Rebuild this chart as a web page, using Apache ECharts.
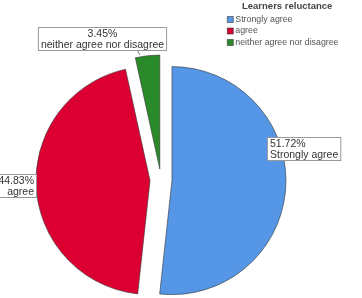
<!DOCTYPE html>
<html>
<head>
<meta charset="utf-8">
<script src="https://cdn.jsdelivr.net/npm/echarts@6/dist/echarts.min.js"></script>
<style>
html,body{margin:0;padding:0;background:#fff;}
#c{width:362px;height:298px;}
</style>
</head>
<body>
<div id="c"></div>
<script>
var legendTitle = 'Learners reluctance';
var categories = ['Strongly agree', 'agree', 'neither agree nor disagree'];
var counts = [15, 13, 1];
var colors = ['#5596e6', '#dc0032', '#2a8a2a'];

// label box placements (layout only)
var labelPlace = [
  {x: 268, y: 138, align: 'left'},
  {x: 36, y: 175, align: 'right'},
  {x: 102.5, y: 28, align: 'center'}
];

var total = counts.reduce(function (a, b) { return a + b; }, 0);
var labelGraphics = categories.map(function (c, i) {
  var pct = (counts[i] / total * 100).toFixed(2) + '%';
  return {
    type: 'text',
    x: labelPlace[i].x, y: labelPlace[i].y,
    silent: true,
    z: 100,
    style: {
      text: pct + '\n' + c,
      font: '10.5px "Liberation Sans"',
      lineHeight: 10.5,
      fill: '#333',
      align: labelPlace[i].align,
      verticalAlign: 'top',
      backgroundColor: '#fff',
      borderColor: '#999',
      borderWidth: 1,
      padding: [1, 2, 0, 2]
    }
  };
});
labelGraphics.push({
  type: 'polyline', silent: true, z: 99,
  shape: {points: [[137, 50], [140, 55]]},
  style: {stroke: '#777', lineWidth: 1}
});

var chart = echarts.init(document.getElementById('c'), null, {renderer: 'canvas'});
chart.setOption({
  animation: false,
  backgroundColor: '#fff',
  title: {
    text: legendTitle,
    left: 242, top: 1, padding: 0,
    textStyle: {fontSize: 9.5, fontWeight: 'bold', color: '#444', fontFamily: 'Liberation Sans'}
  },
  legend: {
    orient: 'vertical',
    left: 227, top: 15, padding: 0,
    itemWidth: 6, itemHeight: 6, itemGap: 2.5,
    icon: 'rect',
    selectedMode: false,
    data: categories,
    itemStyle: {borderColor: '#333', borderWidth: 0.6},
    textStyle: {fontSize: 8.8, color: '#555', fontFamily: 'Liberation Sans', padding: [0,0,0,-3]}
  },
  graphic: labelGraphics,
  series: [{
    type: 'pie',
    center: [161, 180],
    radius: 114,
    startAngle: 90,
    clockwise: true,
    selectedMode: 'multiple',
    selectedOffset: 11,
    silent: true,
    emphasis: {disabled: true},
    itemStyle: {borderColor: '#333', borderWidth: 0.6},
    select: {itemStyle: {borderColor: '#333', borderWidth: 0.6}},
    label: {show: false},
    labelLine: {show: false},
    data: categories.map(function (c, i) {
      return {
        name: c, value: counts[i], selected: true,
        itemStyle: {color: colors[i]}
      };
    })
  }]
});
</script>
</body>
</html>
